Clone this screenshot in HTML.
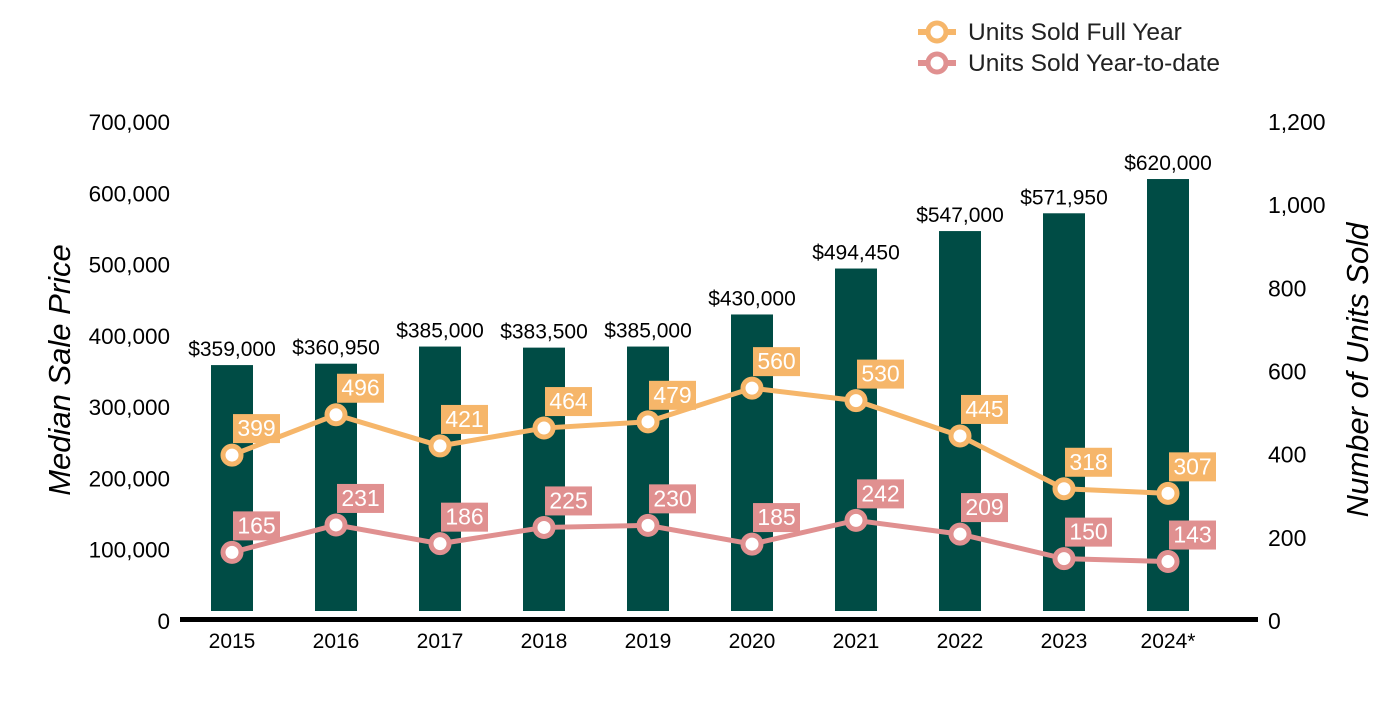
<!DOCTYPE html>
<html><head><meta charset="utf-8"><style>
body{margin:0;background:#fff;}
svg text{font-family:"Liberation Sans",Arial,sans-serif;}
</style></head><body>
<svg id="chart" width="1400" height="700" xmlns="http://www.w3.org/2000/svg">
<g id="bars"></g>
<g id="lines"></g>
<g id="axes"></g>
<g>
 <g>
  <line x1="918" y1="32" x2="956" y2="32" stroke="#F6B66A" stroke-width="6"/>
  <circle cx="937" cy="32" r="9" fill="#fff" stroke="#F6B66A" stroke-width="5"/>
  <text x="968" y="40" font-size="24.5" fill="#222">Units Sold Full Year</text>
 </g>
 <g>
  <line x1="918" y1="63" x2="956" y2="63" stroke="#E09090" stroke-width="6"/>
  <circle cx="937" cy="63" r="9" fill="#fff" stroke="#E09090" stroke-width="5"/>
  <text x="968" y="71" font-size="24.5" fill="#222">Units Sold Year-to-date</text>
 </g>
</g>
<text transform="translate(70,370) rotate(-90)" text-anchor="middle" font-size="31" font-style="italic" fill="#000">Median Sale Price</text>
<text transform="translate(1368,370) rotate(-90)" text-anchor="middle" font-size="31" font-style="italic" fill="#000">Number of Units Sold</text>
</svg>
<script>
const categories=["2015","2016","2017","2018","2019","2020","2021","2022","2023","2024*"];
const prices=[359000,360950,385000,383500,385000,430000,494450,547000,571950,620000];
const unitsFull=[399,496,421,464,479,560,530,445,318,307];
const unitsYtd=[165,231,186,225,230,185,242,209,150,143];
const leftTicks=[0,100000,200000,300000,400000,500000,600000,700000];
const rightTicks=[0,200,400,600,800,1000,1200];
const NS="http://www.w3.org/2000/svg";
const y0=621, yTop=122;
const yL=v=>y0-(v/700000)*(y0-yTop);
const yR=v=>y0-(v/1200)*(y0-yTop);
const xC=i=>232+i*104;
function mk(tag,attrs,parent,txt){const e=document.createElementNS(NS,tag);for(const k in attrs)e.setAttribute(k,attrs[k]);if(txt!==undefined)e.textContent=txt;parent.appendChild(e);return e;}
const fmt=v=>v.toLocaleString('en-US');
const bars=document.getElementById('bars'),lines=document.getElementById('lines'),axes=document.getElementById('axes');
prices.forEach((v,i)=>{
 const b=mk('rect',{x:xC(i)-21,y:yL(v),width:42,height:(y0-10)-yL(v),fill:'#004C45'},bars);
 
 
 const t=mk('text',{x:xC(i),y:yL(v)-9,'text-anchor':'middle','font-size':21,fill:'#000'},bars,'$'+fmt(v));
 
 
});
function series(vals,color,name){
 const g=mk('g',{},lines);
 
 
 const p=mk('polyline',{points:vals.map((v,i)=>xC(i)+','+yR(v)).join(' '),fill:'none',stroke:color,'stroke-width':5},g);
 
 
 vals.forEach((v,i)=>{
  const c=mk('circle',{cx:xC(i),cy:yR(v),r:9,fill:'#fff',stroke:color,'stroke-width':5},g);
  
  
  const r=mk('rect',{x:xC(i)+1,y:yR(v)-41,width:47,height:29,fill:color},g);
  
  
  const t=mk('text',{x:xC(i)+24.5,y:yR(v)-19,'text-anchor':'middle','font-size':23,fill:'#fff'},g,String(v));
  
  
 });
}
series(unitsFull,'#F6B66A','units-full-year');
series(unitsYtd,'#E09090','units-ytd');
const ax=mk('line',{x1:180,y1:619.5,x2:1258,y2:619.5,stroke:'#000','stroke-width':5},axes);


categories.forEach((c,i)=>{
 const t=mk('text',{x:xC(i),y:648,'text-anchor':'middle','font-size':21,fill:'#000'},axes,c);
 
 
});
leftTicks.forEach(v=>{
 const t=mk('text',{x:170,y:yL(v)+8,'text-anchor':'end','font-size':22.5,fill:'#000'},axes,fmt(v));
 
 
});
rightTicks.forEach(v=>{
 const t=mk('text',{x:1268,y:yR(v)+8,'text-anchor':'start','font-size':23,fill:'#000'},axes,fmt(v));
 
 
});
</script>
</body></html>
